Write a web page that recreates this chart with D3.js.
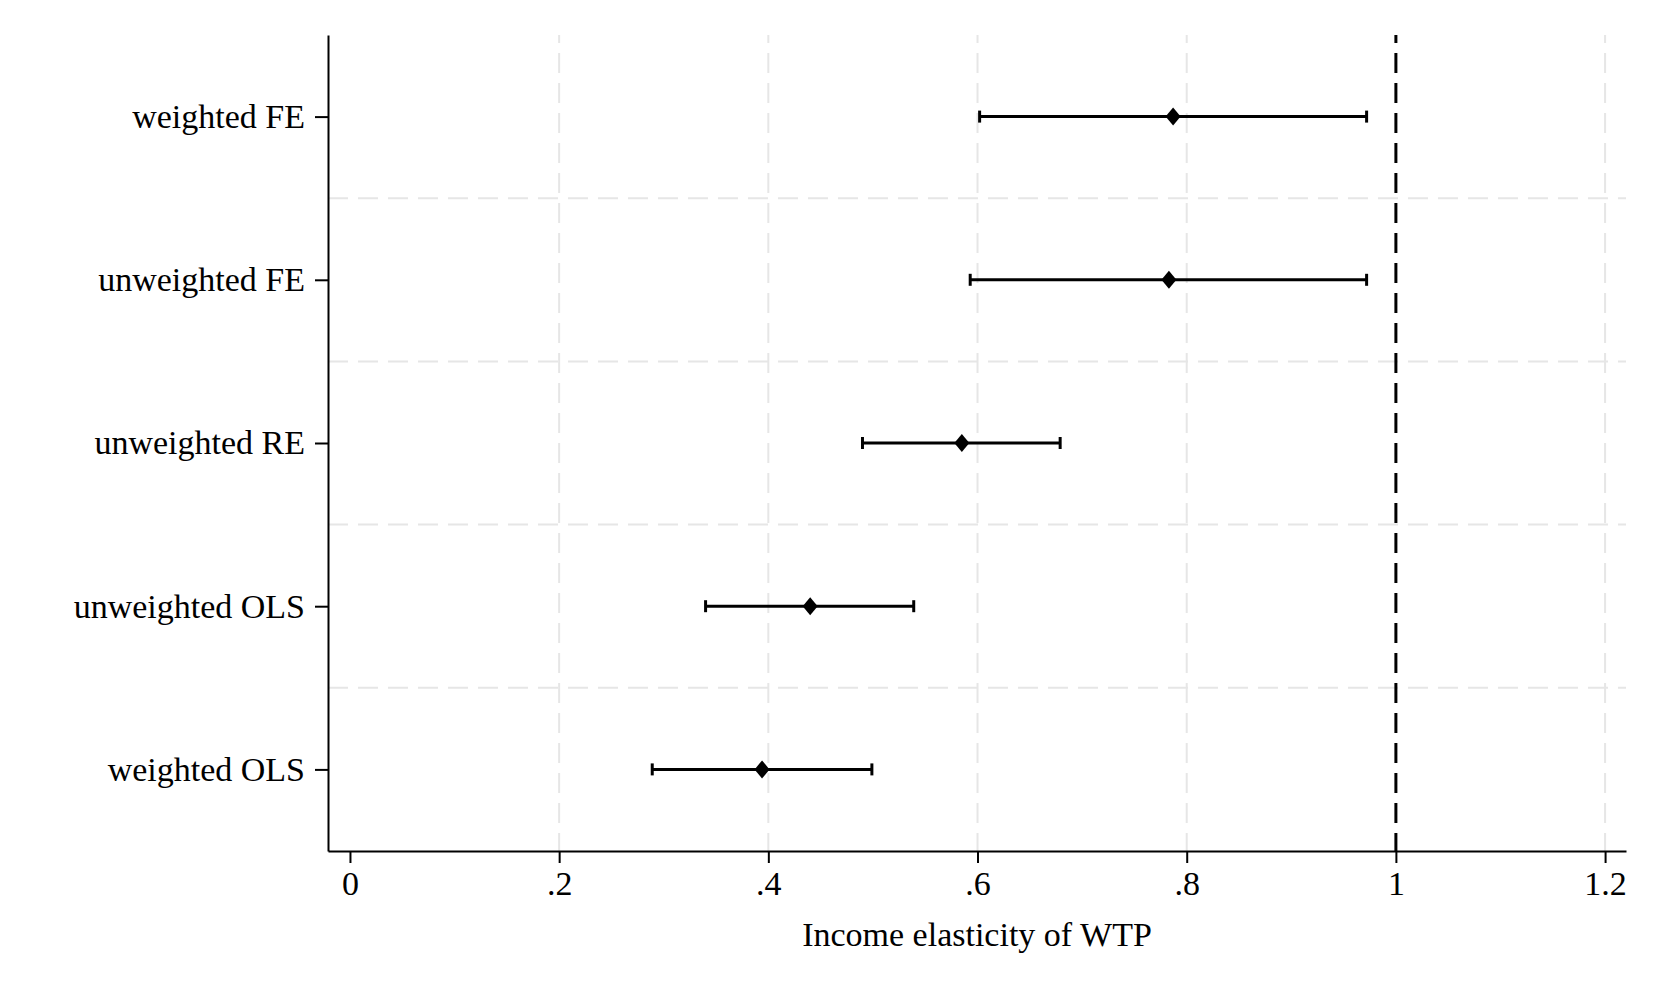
<!DOCTYPE html>
<html>
<head>
<meta charset="utf-8">
<script src="https://cdn.jsdelivr.net/npm/d3@7"></script>
<style>
  body { margin: 0; background: #fff; }
  svg { display: block; font-family: 'Liberation Serif', 'Times New Roman', serif; }
</style>
</head>
<body>
<script>
const models = ['weighted FE', 'unweighted FE', 'unweighted RE', 'unweighted OLS', 'weighted OLS']
const estimates = [0.787, 0.783, 0.585, 0.440, 0.394]
const lower = [0.602, 0.593, 0.490, 0.340, 0.289]
const upper = [0.972, 0.972, 0.679, 0.539, 0.499]
const xTicks = [0, 0.2, 0.4, 0.6, 0.8, 1, 1.2]
const xTickLabels = ['0', '.2', '.4', '.6', '.8', '1', '1.2']
const refValue = 1
const xTitle = 'Income elasticity of WTP'

const width = 1661
const height = 997
const margin = { top: 35, right: 35, bottom: 146, left: 328 }

const rows = models.map((m, i) => ({ model: m, pos: i + 1, est: estimates[i], lo: lower[i], hi: upper[i] }))

const svg = d3.select('body').append('svg')
  .attr('width', width)
  .attr('height', height)

const xDomain = [-0.021, 1.22]
const x = d3.scaleLinear()
  .domain(xDomain)
  .range([margin.left, width - margin.right])

const y = d3.scaleLinear()
  .domain([0.5, 5.5])
  .range([margin.top, height - margin.bottom])

const grid = svg.append('g')

// vertical grid, skipping 0 and the reference line
grid.selectAll('line.vg')
  .data(xTicks.filter(t => t !== 0 && t !== refValue))
  .enter().append('line')
  .attr('x1', d => x(d)).attr('x2', d => x(d))
  .attr('y1', y(0.5)).attr('y2', y(5.5))
  .attr('stroke', '#e6e6e6')
  .attr('stroke-width', 2)
  .attr('stroke-dasharray', '20,10')
  .attr('stroke-dashoffset', 12)

// horizontal grid between the rows
grid.selectAll('line.hg')
  .data(d3.range(1.5, 5.5, 1))
  .enter().append('line')
  .attr('x1', margin.left).attr('x2', width - margin.right)
  .attr('y1', d => y(d)).attr('y2', d => y(d))
  .attr('stroke', '#e6e6e6')
  .attr('stroke-width', 2)
  .attr('stroke-dasharray', '20,10')

// reference line at 1
svg.append('line')
  .attr('x1', x(refValue)).attr('x2', x(refValue))
  .attr('y1', y(0.5)).attr('y2', y(5.5))
  .attr('stroke', '#000')
  .attr('stroke-width', 3)
  .attr('stroke-dasharray', '20,10')
  .attr('stroke-dashoffset', 12)

// x axis
const xAxis = svg.append('g')
  .attr('transform', 'translate(0,' + (height - margin.bottom) + ')')
  .call(d3.axisBottom(x).tickValues(xTicks).tickFormat((d, i) => xTickLabels[i]).tickSize(12).tickPadding(8).tickSizeOuter(0))
xAxis.select('.domain').attr('stroke-width', 2).attr('stroke', '#000')
xAxis.selectAll('.tick line').attr('stroke-width', 2)
xAxis.selectAll('.tick text').attr('font-size', 34).attr('font-family', 'Liberation Serif').attr('fill', '#000')

// y axis
const yAxis = svg.append('g')
  .attr('transform', 'translate(' + margin.left + ',0)')
  .call(d3.axisLeft(y).tickValues(rows.map(d => d.pos)).tickFormat((d, i) => models[i]).tickSize(13).tickPadding(10).tickSizeOuter(0))
yAxis.select('.domain').attr('stroke-width', 2).attr('stroke', '#000')
yAxis.selectAll('.tick line').attr('stroke-width', 2)
yAxis.selectAll('.tick text').attr('font-size', 34).attr('font-family', 'Liberation Serif').attr('fill', '#000')

// confidence intervals
const ci = svg.append('g').selectAll('g')
  .data(rows)
  .enter().append('g')

ci.append('line')
  .attr('x1', d => x(d.lo)).attr('x2', d => x(d.hi))
  .attr('y1', d => y(d.pos)).attr('y2', d => y(d.pos))
  .attr('stroke', '#000').attr('stroke-width', 3)

ci.selectAll('line.cap')
  .data(d => [{ v: d.lo, pos: d.pos }, { v: d.hi, pos: d.pos }])
  .enter().append('line')
  .attr('x1', d => x(d.v)).attr('x2', d => x(d.v))
  .attr('y1', d => y(d.pos) - 6).attr('y2', d => y(d.pos) + 6)
  .attr('stroke', '#000').attr('stroke-width', 3)

// point estimates as diamonds
ci.append('path')
  .attr('transform', d => 'translate(' + x(d.est) + ',' + y(d.pos) + ')')
  .attr('d', 'M0,-9L7.5,0L0,9L-7.5,0Z')
  .attr('fill', '#000')

svg.append('text')
  .attr('x', (x(xDomain[0]) + x(xDomain[1])) / 2)
  .attr('y', 946)
  .attr('text-anchor', 'middle')
  .attr('font-size', 34)
  .text(xTitle)
</script>
</body>
</html>
